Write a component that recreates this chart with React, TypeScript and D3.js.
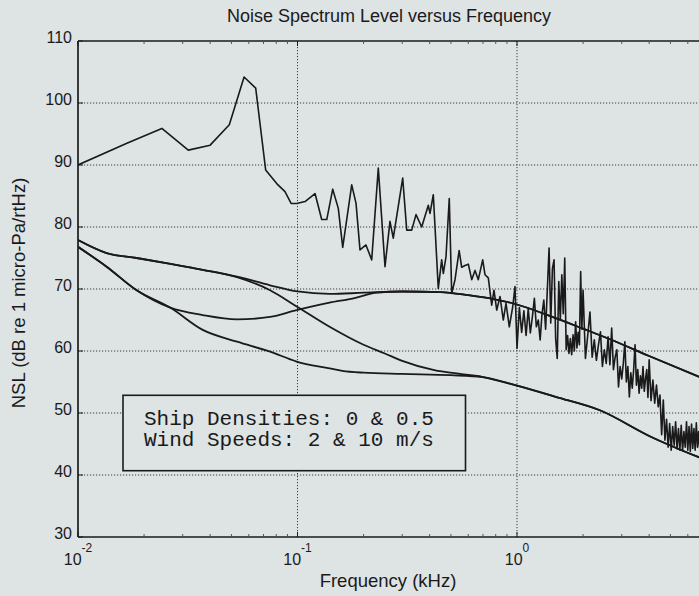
import React from "react";
import * as d3 from "d3";

type Pt = [number, number];

// ---- axis ticks ----
const xTickValues = [0.01, 0.1, 1];
const xTickExponents = ["-2", "-1", "0"];
const yTickValues = [30, 40, 50, 60, 70, 80, 90, 100, 110];
const yGridValues = [40, 50, 60, 70, 80, 90, 100];

// ---- text ----
const titleText = "Noise Spectrum Level versus Frequency";
const xLabelText = "Frequency (kHz)";
const yLabelText = "NSL (dB re 1 micro-Pa/rtHz)";
const legendLines = ["Ship Densities: 0 & 0.5", "Wind Speeds: 2 & 10 m/s"];

// ---- model curves [kHz, dB] ----
const ship05Wind10: Pt[] = [
  [0.01, 77.9], [0.0135, 75.8], [0.0185, 75.0], [0.026, 74.1], [0.037, 73.1], [0.053, 72.0],
  [0.075, 70.6], [0.1, 69.6], [0.14, 69.2], [0.2, 69.4], [0.3, 69.6], [0.45, 69.5], [0.6, 69.0],
  [0.8, 68.3], [1.0, 67.5], [1.4, 65.7], [2.0, 63.6], [2.65, 61.9], [4.0, 59.2], [6.8, 55.8],
];
const ship05Wind2: Pt[] = [
  [0.01, 77.9], [0.0135, 75.8], [0.0185, 75.0], [0.026, 74.1], [0.037, 73.1], [0.053, 71.9],
  [0.075, 69.8], [0.1, 67.1], [0.14, 63.9], [0.2, 61.0], [0.25, 59.6], [0.3, 58.4], [0.42, 56.9],
  [0.55, 56.3], [0.7, 55.8], [1.0, 54.4], [1.5, 52.6], [2.4, 50.4], [4.0, 46.3], [6.8, 42.8],
];
const ship0Wind10: Pt[] = [
  [0.01, 76.8], [0.0135, 73.6], [0.0185, 69.8], [0.0263, 67.0], [0.037, 65.8], [0.053, 65.1],
  [0.075, 65.5], [0.099, 66.6], [0.14, 67.8], [0.18, 68.5], [0.23, 69.4], [0.3, 69.6], [0.45, 69.5],
  [0.6, 69.0], [0.8, 68.3], [1.0, 67.5], [1.4, 65.7], [2.0, 63.6], [2.65, 61.9], [4.0, 59.2], [6.8, 55.8],
];
const ship0Wind2: Pt[] = [
  [0.01, 76.8], [0.0135, 73.6], [0.0185, 69.8], [0.0263, 67.0], [0.037, 63.4], [0.053, 61.5],
  [0.075, 59.9], [0.099, 58.3], [0.14, 57.2], [0.16, 56.8], [0.2, 56.5], [0.3, 56.3], [0.5, 56.1],
  [0.7, 55.8], [1.0, 54.4], [1.5, 52.6], [2.4, 50.4], [4.0, 46.3], [6.8, 42.8],
];

// ---- measured spectrum [kHz, dB] ----
const measuredLow: Pt[] = [
  [0.01, 90.0], [0.0167, 93.5], [0.0241, 95.9], [0.0318, 92.4], [0.04, 93.2], [0.0489, 96.5],
  [0.0571, 104.2], [0.0645, 102.4], [0.0716, 89.2], [0.0804, 87.0], [0.0877, 85.7], [0.0935, 83.8],
  [0.0992, 83.8], [0.1082, 84.1], [0.1202, 85.4], [0.1289, 81.2], [0.1359, 81.2], [0.1447, 86.1],
  [0.1534, 83.0], [0.1607, 76.7], [0.1766, 86.8], [0.1848, 83.8], [0.1926, 76.3], [0.2051, 77.1],
  [0.2178, 74.7], [0.2334, 89.5], [0.2504, 73.6], [0.2638, 80.9], [0.2731, 78.2], [0.3015, 87.9],
  [0.3145, 79.5], [0.3314, 79.5], [0.3467, 82.0], [0.368, 80.0], [0.3944, 83.5], [0.4015, 82.2],
  [0.4156, 85.2], [0.4379, 70.1], [0.4538, 74.7], [0.4616, 72.5], [0.4748, 75.2], [0.4914, 84.6],
  [0.5041, 69.3], [0.5219, 71.5], [0.545, 76.2], [0.5598, 73.5], [0.5796, 73.8], [0.6001, 74.0],
  [0.6219, 71.5], [0.6437, 73.0], [0.6664, 71.5], [0.6978, 74.7], [0.7149, 72.3], [0.74, 71.8],
  [0.767, 67.4], [0.7856, 69.8], [0.8084, 66.6], [0.8367, 68.8], [0.8661, 65.0], [0.8911, 67.7],
  [0.9224, 63.9], [0.9559, 67.1], [0.9792, 70.4],
];
const measuredMid: Pt[] = [
  [1.0, 60.4], [1.025, 67.0], [1.05, 63.0], [1.075, 66.5], [1.1, 62.5], [1.125, 66.8], [1.15, 62.9],
  [1.175, 65.5], [1.2, 68.5], [1.225, 63.9], [1.25, 65.0], [1.275, 61.8], [1.3, 66.0], [1.325, 68.2],
  [1.35, 63.5], [1.375, 70.0], [1.4, 76.6], [1.425, 64.5], [1.45, 73.3], [1.475, 74.7], [1.5, 62.0],
  [1.525, 58.8], [1.55, 71.2], [1.575, 65.0], [1.6, 72.3], [1.625, 66.0], [1.65, 75.0], [1.675, 60.2],
  [1.7, 62.5], [1.725, 59.6], [1.75, 62.0], [1.775, 59.4], [1.8, 62.6], [1.825, 60.0], [1.85, 64.7],
  [1.875, 60.5], [1.9, 63.0], [1.925, 61.0], [1.95, 72.8], [1.975, 63.5], [2.0, 69.8],
];
const measuredHigh: Pt[] = [
  [2.05, 58.8], [2.1, 62.5], [2.15, 66.3], [2.2, 59.0], [2.25, 61.8], [2.3, 58.5], [2.35, 61.0],
  [2.4, 63.1], [2.45, 57.5], [2.5, 60.2], [2.55, 58.0], [2.6, 62.3], [2.65, 57.8], [2.7, 63.7],
  [2.75, 57.0], [2.8, 59.0], [2.85, 60.2], [2.9, 54.2], [2.95, 57.5], [3.0, 55.5], [3.05, 58.0],
  [3.1, 61.5], [3.15, 55.0], [3.2, 57.5], [3.25, 52.6], [3.3, 56.5], [3.35, 54.0], [3.4, 57.0],
  [3.45, 61.0], [3.5, 54.5], [3.55, 57.0], [3.6, 53.2], [3.65, 56.0], [3.7, 54.0], [3.75, 57.5],
  [3.8, 53.5], [3.85, 55.5], [3.9, 57.0], [3.95, 52.5], [4.0, 58.6], [4.08, 52.0], [4.16, 55.3],
  [4.24, 51.6], [4.32, 54.5], [4.4, 51.0], [4.48, 52.9], [4.56, 46.5], [4.64, 52.1], [4.72, 45.6],
  [4.8, 49.0], [4.88, 44.5], [4.96, 48.3], [5.04, 44.0], [5.12, 47.8], [5.2, 44.8], [5.28, 48.6],
  [5.36, 44.2], [5.44, 47.5], [5.52, 44.0], [5.6, 48.0], [5.68, 43.9], [5.76, 47.0], [5.84, 44.5],
  [5.92, 48.6], [6.0, 44.0], [6.08, 47.8], [6.16, 43.8], [6.24, 48.2], [6.32, 44.3], [6.4, 47.5],
  [6.48, 44.0], [6.56, 48.4], [6.64, 44.5], [6.72, 47.0], [6.8, 44.2],
];

const W = 699;
const H = 596;
const PLOT = { left: 78, right: 736.5, top: 41, bottom: 537 };
const BG = "#dee3e4";
const INK = "#1a1a1a";
const SANS = "'Liberation Sans', Arial, Helvetica, sans-serif";
const MONO = "'Liberation Mono', 'Courier New', monospace";

export default function App() {
  const x = d3.scaleLog().domain([0.01, 10]).range([PLOT.left, PLOT.right]);
  const y = d3.scaleLinear().domain([30, 110]).range([PLOT.bottom, PLOT.top]);

  const smoothLine = d3
    .line<Pt>()
    .x((d) => x(d[0]))
    .y((d) => y(d[1]))
    .curve(d3.curveMonotoneX);
  const rawLine = d3
    .line<Pt>()
    .x((d) => x(d[0]))
    .y((d) => y(d[1]));

  const measured = [...measuredLow, ...measuredMid, ...measuredHigh];
  const models = [ship05Wind10, ship05Wind2, ship0Wind10, ship0Wind2];
  const minorTicks = x.ticks().filter((t) => !xTickValues.includes(t));

  const legend = { x0: 123, x1: 465.5, y0: 395.3, y1: 470.7 };

  return (
    <div style={{ position: "absolute", left: 0, top: 0, width: W, height: H, overflow: "hidden" }}>
      <svg width={W} height={H} style={{ display: "block", background: BG }}>
        <rect x={0} y={0} width={W} height={H} fill={BG} />
        <defs>
          <clipPath id="plotClip">
            <rect x={PLOT.left} y={PLOT.top} width={PLOT.right - PLOT.left} height={PLOT.bottom - PLOT.top} />
          </clipPath>
        </defs>

        {/* grid */}
        <g stroke="#3a3a3a" strokeWidth={1} strokeDasharray="1.2,1.8">
          {yGridValues.map((v) => (
            <line key={"gy" + v} x1={PLOT.left} x2={PLOT.right} y1={y(v)} y2={y(v)} />
          ))}
          {xTickValues.slice(1).map((v) => (
            <line key={"gx" + v} x1={x(v)} x2={x(v)} y1={PLOT.top} y2={PLOT.bottom} />
          ))}
        </g>

        {/* curves */}
        <g clipPath="url(#plotClip)" fill="none" stroke={INK} strokeLinejoin="round">
          {models.map((m, i) => (
            <path key={"m" + i} d={smoothLine(m) || ""} strokeWidth={1.8} />
          ))}
          <path d={rawLine(measured) || ""} strokeWidth={1.6} />
        </g>

        {/* legend box */}
        <rect
          x={legend.x0}
          y={legend.y0}
          width={legend.x1 - legend.x0}
          height={legend.y1 - legend.y0}
          fill={BG}
          stroke={INK}
          strokeWidth={1.6}
        />
        {legendLines.map((t, i) => (
          <text
            key={"lg" + i}
            x={144}
            y={424.5 + i * 21.5}
            fontFamily={MONO}
            fontSize={21}
            fill={INK}
            style={{ whiteSpace: "pre" }}
          >
            {t}
          </text>
        ))}

        {/* frame */}
        <g stroke={INK} strokeWidth={1.7} fill="none">
          <line x1={PLOT.left} x2={PLOT.right} y1={PLOT.top} y2={PLOT.top} />
          <line x1={PLOT.left} x2={PLOT.right} y1={PLOT.bottom} y2={PLOT.bottom} />
          <line x1={PLOT.left} x2={PLOT.left} y1={PLOT.top} y2={PLOT.bottom} />
        </g>

        {/* ticks */}
        <g stroke={INK} strokeWidth={1}>
          {yTickValues.map((v) => (
            <line key={"ty" + v} x1={PLOT.left} x2={PLOT.left + 5} y1={y(v)} y2={y(v)} />
          ))}
          {xTickValues.map((v) => (
            <g key={"tx" + v}>
              <line x1={x(v)} x2={x(v)} y1={PLOT.bottom} y2={PLOT.bottom - 5} />
              <line x1={x(v)} x2={x(v)} y1={PLOT.top} y2={PLOT.top + 5} />
            </g>
          ))}
          {minorTicks.map((v, i) => (
            <g key={"mt" + i} stroke="#555">
              <line x1={x(v)} x2={x(v)} y1={PLOT.bottom} y2={PLOT.bottom - 3} />
              <line x1={x(v)} x2={x(v)} y1={PLOT.top} y2={PLOT.top + 3} />
            </g>
          ))}
        </g>

        {/* y tick labels */}
        {yTickValues.map((v) => (
          <text key={"yl" + v} x={72} y={y(v) + 2} textAnchor="end" fontFamily={SANS} fontSize={16} fill={INK}>
            {v}
          </text>
        ))}

        {/* x tick labels */}
        {xTickValues.map((v, i) => (
          <text key={"xl" + v} x={x(v)} y={565} textAnchor="middle" fontFamily={SANS} fontSize={16} fill={INK}>
            <tspan>10</tspan>
            <tspan dy={-13} fontSize={12}>
              {xTickExponents[i]}
            </tspan>
          </text>
        ))}

        {/* title & labels */}
        <text x={389} y={22} textAnchor="middle" fontFamily={SANS} fontSize={18} fill={INK}>
          {titleText}
        </text>
        <text x={388} y={587} textAnchor="middle" fontFamily={SANS} fontSize={18.5} fill={INK}>
          {xLabelText}
        </text>
        <text
          transform="rotate(-90)"
          x={-293}
          y={25}
          textAnchor="middle"
          fontFamily={SANS}
          fontSize={18.5}
          fill={INK}
        >
          {yLabelText}
        </text>
      </svg>
    </div>
  );
}
